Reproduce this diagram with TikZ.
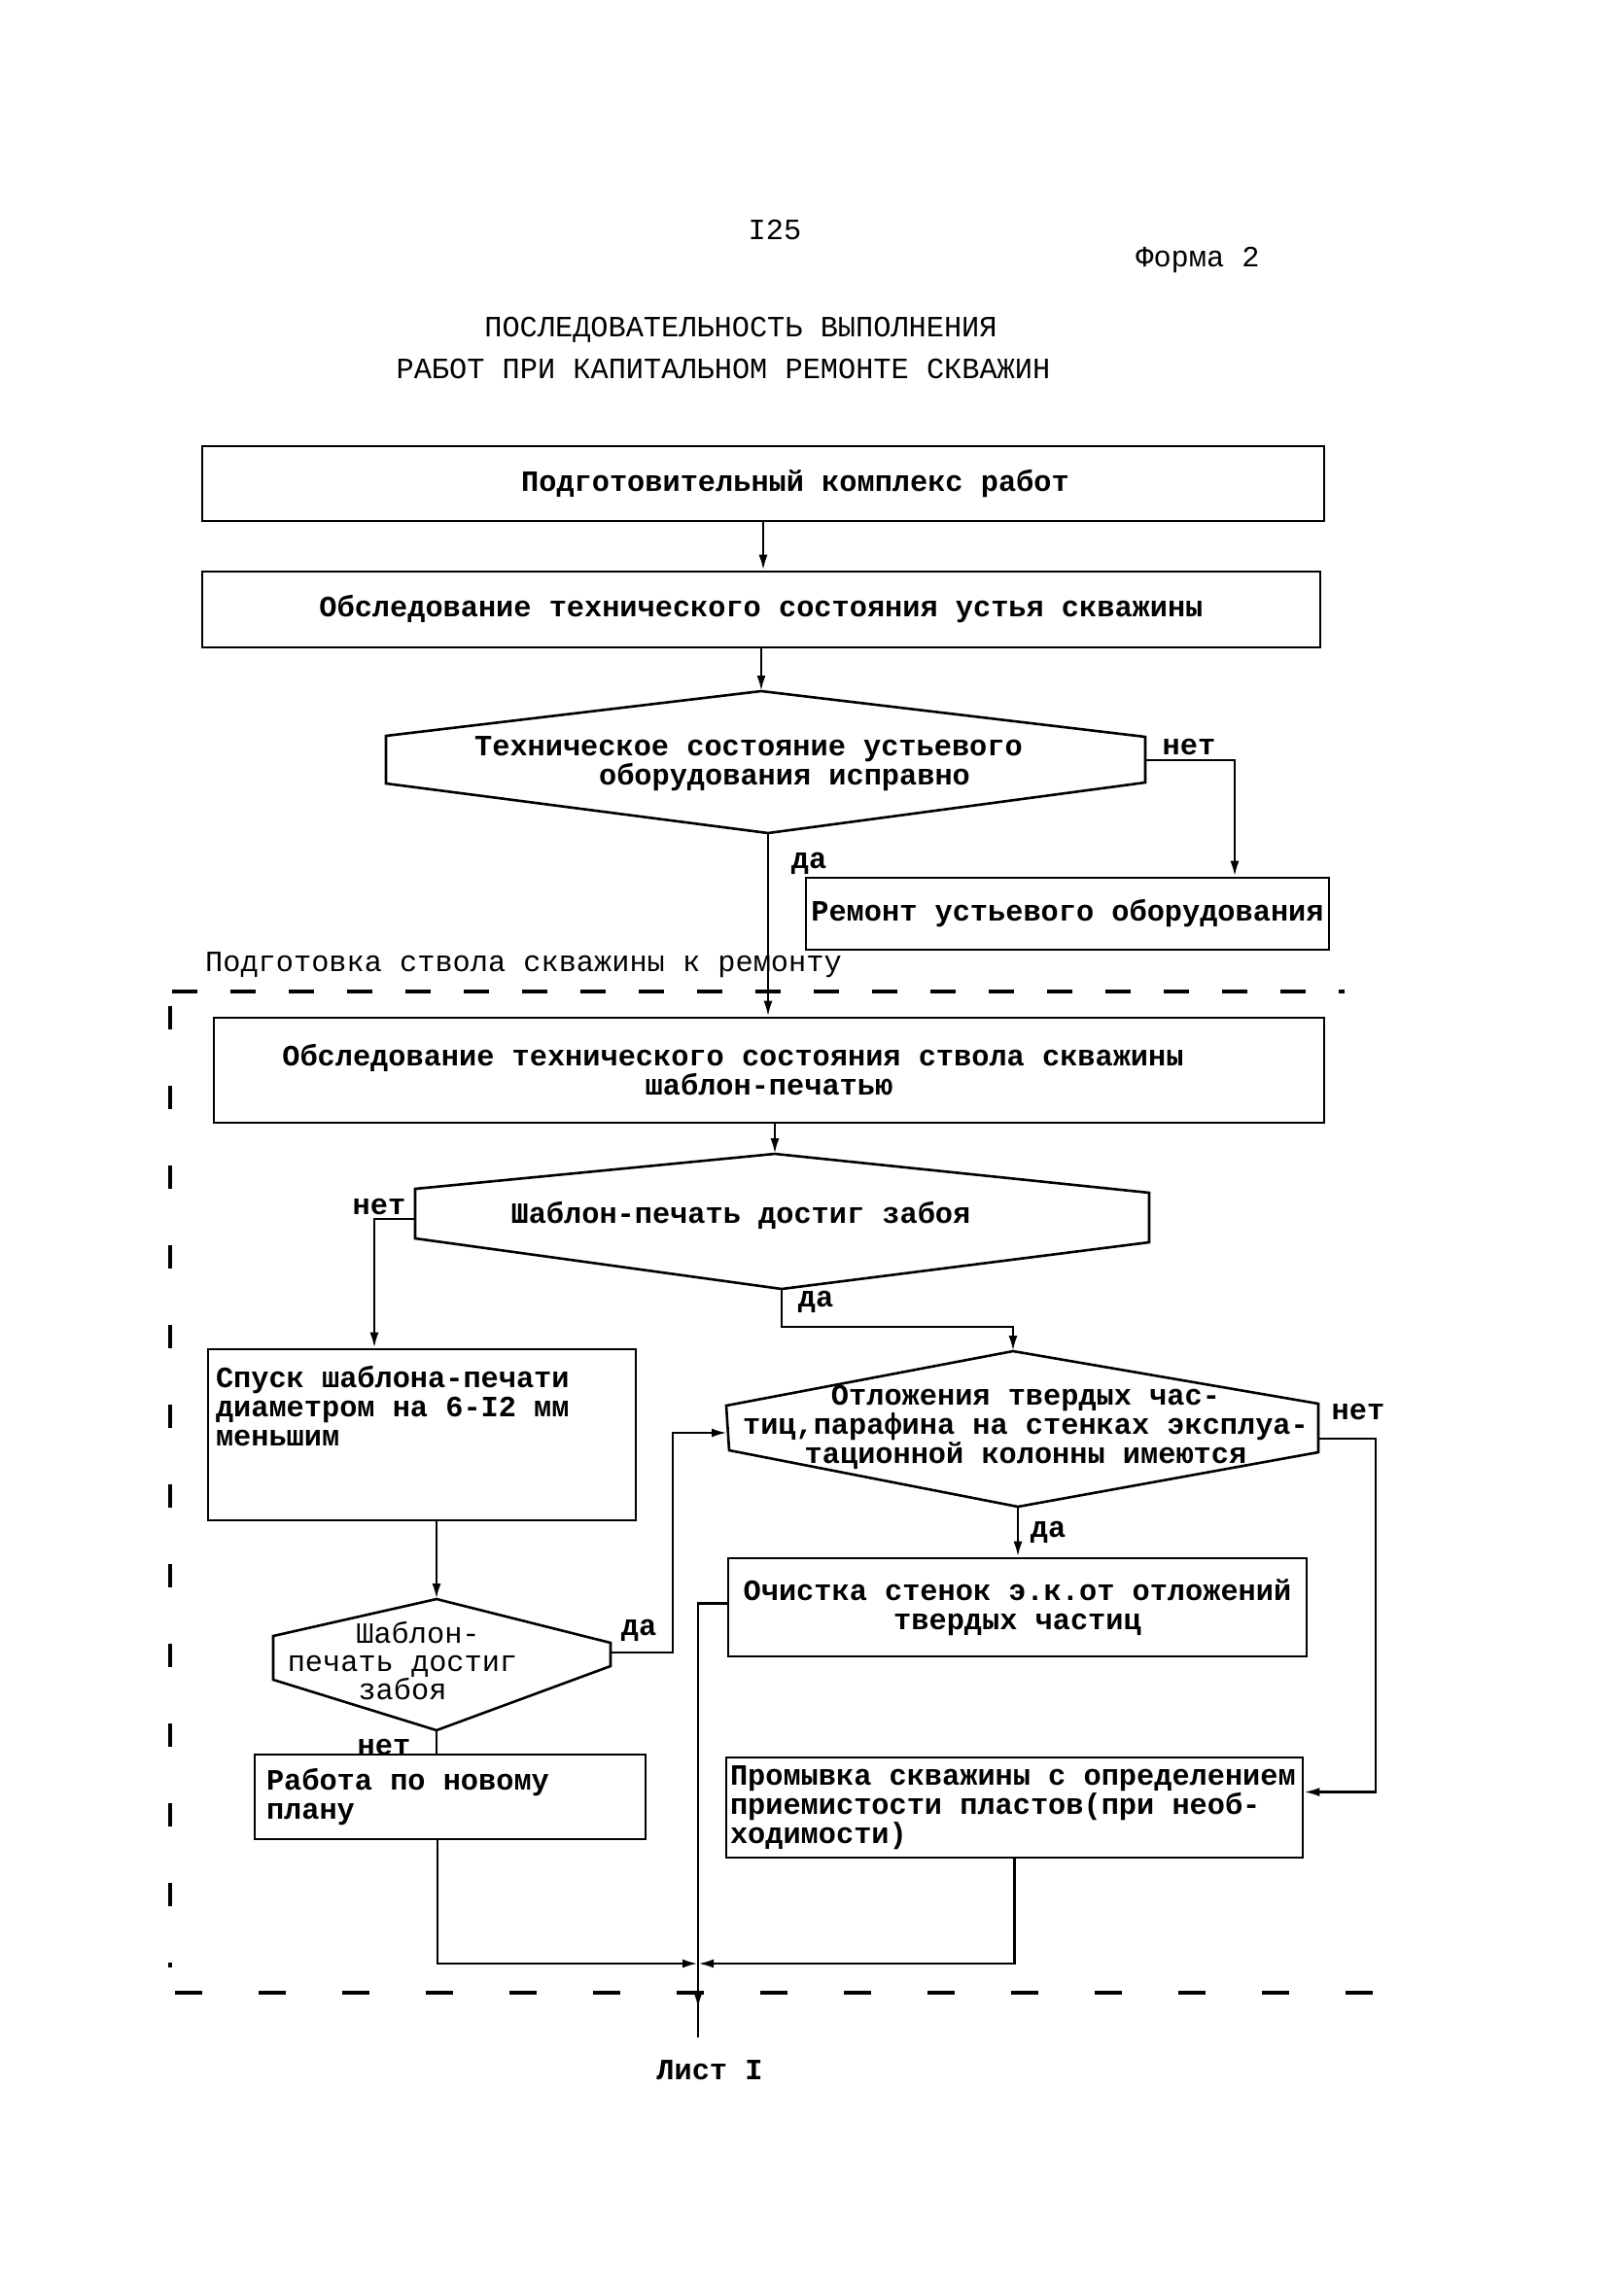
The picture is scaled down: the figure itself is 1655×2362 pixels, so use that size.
\documentclass[tikz,border=0pt]{standalone}
\usepackage{fontspec}
\setmainfont{Liberation Mono}
\usetikzlibrary{arrows.meta,decorations.markings}
\newcommand\myfnt{\fontsize{30.3}{30}\selectfont\bfseries}
\newcommand\myfntr{\fontsize{30.3}{30}\selectfont}
\begin{document}
\begin{tikzpicture}[x=1pt,y=-1pt,
  ln/.style={line width=2.6pt, line join=miter},
  arr/.style={ln, -{Latex[length=16pt,width=9pt]}},
  box/.style={draw, ln, rectangle, inner sep=0pt, align=center, font=\myfnt},
  lbox/.style={box, align=flush left},
  txt/.style={inner sep=0pt, align=center, font=\myfnt},
  lbl/.style={inner sep=0pt, font=\myfnt},
  hex/.style={ln},
  frameln/.style={line width=3.5pt}
]
\fill[white] (0,0) rectangle (1655,2362);
\useasboundingbox (0,0) rectangle (1655,2362);

% heading
\node[lbl, font=\myfntr] (num) at (797,237) {I25};
\node[lbl, font=\myfntr] (form) at (1232,268) {Форма 2};
\node[txt, font=\fontsize{30.3}{43}\selectfont] (title) at (753,358) {\hspace*{18pt}ПОСЛЕДОВАТЕЛЬНОСТЬ ВЫПОЛНЕНИЯ\\РАБОТ ПРИ КАПИТАЛЬНОМ РЕМОНТЕ СКВАЖИН\hspace*{18pt}};

% boxes
\node[box, minimum width=1154pt, minimum height=77pt] (b1) at (785,497.5) {\hspace*{66pt}Подготовительный комплекс работ};
\node[box, minimum width=1150pt, minimum height=78pt] (b2) at (783,627) {Обследование технического состояния устья скважины};
\node[box, minimum width=538pt, minimum height=74pt] (b3) at (1098,940) {Ремонт устьевого оборудования};
\node[box, minimum width=1142pt, minimum height=108pt] (b4) at (791,1101) {Обследование технического состояния ствола скважины\hspace*{74pt}\\шаблон-печатью};
\node[lbox, text width=424pt, inner xsep=8pt, minimum height=176pt] (b5) at (434,1476) {Спуск шаблона-печати\\диаметром на 6-I2 мм\\меньшим\\~\\~};
\node[box, minimum width=595pt, minimum height=101pt] (b6) at (1046.5,1653.5) {Очистка стенок э.к.от отложений\\твердых частиц};
\node[lbox, text width=378pt, inner xsep=12pt, minimum height=87pt] (b7) at (463,1848.5) {Работа по новому\\плану};
\node[lbox, text width=585pt, inner xsep=4pt, minimum height=103pt] (b8) at (1043.5,1859.5) {\mbox{Промывка скважины с определением}\\приемистости пластов(при необ-\\ходимости)};

% decisions
\draw[hex] (783,711) coordinate (d1t) -- (1178,758) -- (1178,805) -- (790,857) coordinate (d1b) -- (397,806) -- (397,757) -- cycle;
\coordinate (d1r) at (1178,782);
\node[txt] (d1) at (770,786) {Техническое состояние устьевого\\\hspace*{74pt}оборудования исправно};

\draw[hex] (797,1187) coordinate (d2t) -- (1182,1227) -- (1182,1278) -- (804,1326) coordinate (d2b) -- (427,1274) -- (427,1223) -- cycle;
\coordinate (d2l) at (427,1254);
\node[txt] (d2) at (762,1250) {Шаблон-печать достиг забоя};

\draw[hex] (1042,1390) coordinate (d3t) -- (1356,1444) -- (1356,1494) -- (1047,1550) coordinate (d3b) -- (750,1492) -- (747,1446) -- cycle;
\coordinate (d3l) at (748,1474);
\coordinate (d3r) at (1356,1480);
\node[txt] (d3) at (1055,1468) {Отложения твердых час-\\тиц,парафина на стенках эксплуа-\\тационной колонны имеются};

\draw[hex] (449,1645) coordinate (d4t) -- (628,1690) -- (628,1714) -- (449,1780) coordinate (d4b) -- (281,1728) -- (281,1683) -- cycle;
\coordinate (d4r) at (628,1700);
\node[txt, font=\fontsize{30.3}{29}\selectfont] (d4) at (414,1709) {\hspace*{32pt}Шаблон-\\печать достиг\\забоя};

% labels
\node[lbl] (n1) at (1223,768) {нет};
\node[lbl] (y1) at (832,888) {да};
\node[lbl] (n2) at (390,1241) {нет};
\node[lbl] (y2) at (839,1339) {да};
\node[lbl] (n3) at (1397,1452) {нет};
\node[lbl] (y3) at (1078,1576) {да};
\node[lbl] (y4) at (657,1677) {да};
\node[lbl] (n4) at (395,1797) {нет};
\node[lbl] (sheet) at (730,2130) {Лист I};
\node[lbl, anchor=west, font=\myfntr] (sect) at (211,993) {Подготовка ствола скважины к ремонту};

% frame of the section
\draw[frameln, dash pattern=on 26pt off 34pt] (177,1020) -- (1383,1020);
\draw[frameln, dash pattern=on 24pt off 58pt] (175,1035) -- (175,2024);
\draw[frameln, dash pattern=on 28pt off 58pt] (180,2050) -- (1426,2050);

% connectors
\draw[arr] (b1.south) -- (b1.south |- b2.north);
\draw[arr] (b2.south) -- (d1t);
\draw[arr] (d1r) -| ([xshift=172pt]b3.north);
\draw[arr] (d1b) -- (d1b |- b4.north);
\draw[arr] (d2t |- b4.south) -- (d2t);
\draw[arr] (d2l) -| ([xshift=-49pt]b5.north);
\draw[arr] (d2b) -- ++(0,39) -| (d3t);
\draw[arr] (d4t |- b5.south) -- (d4t);
\draw[arr] (d4r) -- ++(64,0) |- (d3l);
\draw[arr] (d3r) -- ++(59,0) |- ([yshift=16pt]b8.east);
\draw[arr] (d3b) -- (d3b |- b6.north);
\draw[ln] (d4b) -- (d4b |- b7.north);
\coordinate (m) at (718,2020);
\coordinate (e) at (718,2096);
\draw[arr] ([xshift=-13pt]b7.south) |- (m);
\draw[arr] (b8.south) |- (m);
\draw[ln, postaction={decorate}, decoration={markings, mark=at position 0.937 with {\arrow{Latex[length=16pt,width=9pt]}}}] ([yshift=4pt]b6.west) -| (e);
\end{tikzpicture}
\end{document}
